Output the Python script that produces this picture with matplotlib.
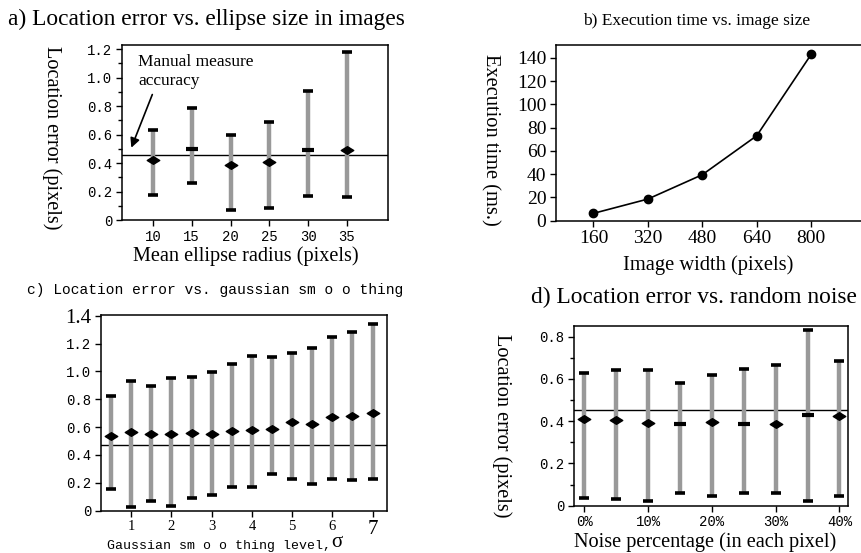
import numpy as np
import matplotlib
matplotlib.use("Agg")
import matplotlib.pyplot as plt
from matplotlib.path import Path

SERIF = "Liberation Serif"
MONO = "Liberation Mono"
plt.rcParams['font.family'] = MONO

# a) location error vs ellipse radius
a_radius = [10, 15, 20, 25, 30, 35]
a_mean = [0.42, 0.50, 0.39, 0.41, 0.49, 0.49]
a_low = [0.175, 0.26, 0.07, 0.085, 0.17, 0.165]
a_high = [0.635, 0.79, 0.595, 0.69, 0.91, 1.18]
a_dash = [False, True, False, False, True, False]
a_ref = 0.455
a_yticks = [0, 0.2, 0.4, 0.6, 0.8, 1.0, 1.2]
a_ylabels = ["0", "0.2", "0.4", "0.6", "0.8", "1.0", "1.2"]

# b) execution time vs image width
b_width = [160, 320, 480, 640, 800]
b_time = [6.3, 18.6, 39.5, 73.0, 142.9]
b_yticks = [0, 20, 40, 60, 80, 100, 120, 140]

# c) location error vs gaussian smoothing
c_sigma = [0.5, 1, 1.5, 2, 2.5, 3, 3.5, 4, 4.5, 5, 5.5, 6, 6.5, 7]
c_mean = [0.538, 0.565, 0.553, 0.548, 0.558, 0.553, 0.574, 0.581, 0.589,
          0.634, 0.620, 0.670, 0.677, 0.703]
c_low = [0.158, 0.024, 0.072, 0.034, 0.091, 0.112, 0.170, 0.170, 0.266,
         0.227, 0.194, 0.227, 0.220, 0.227]
c_high = [0.823, 0.933, 0.895, 0.950, 0.960, 0.995, 1.055, 1.110, 1.103,
          1.134, 1.168, 1.244, 1.283, 1.340]
c_ref = 0.474
c_yticks = [0, 0.2, 0.4, 0.6, 0.8, 1.0, 1.2, 1.4]
c_ylabels = ["0", "0.2", "0.4", "0.6", "0.8", "1.0", "1.2", "1.4"]

# d) location error vs random noise
d_noise = [0, 5, 10, 15, 20, 25, 30, 35, 40]
d_mean = [0.412, 0.406, 0.393, 0.385, 0.396, 0.385, 0.388, 0.431, 0.426]
d_low = [0.038, 0.033, 0.024, 0.062, 0.048, 0.062, 0.062, 0.021, 0.048]
d_high = [0.630, 0.642, 0.642, 0.580, 0.619, 0.646, 0.665, 0.832, 0.686]
d_dash = [False, False, False, True, False, True, False, True, False]
d_ref = 0.451
d_xticks = [0, 10, 20, 30, 40]
d_xlabels = ["0%", "10%", "20%", "30%", "40%"]
d_yticks = [0, 0.2, 0.4, 0.6, 0.8]
d_ylabels = ["0", "0.2", "0.4", "0.6", "0.8"]

W, H = 861, 553
fig = plt.figure(figsize=(W / 100, H / 100), dpi=100)

def box(l, t, r, b):
    # pixel box -> figure fraction rect
    return [l / W, 1 - b / H, (r - l) / W, (b - t) / H]

def fpos(x, y):
    return x / W, 1 - y / H

# wide diamond for the means
diamond = Path([(-1.3, 0), (0, 0.8), (1.3, 0), (0, -0.8), (-1.3, 0)],
               [Path.MOVETO, Path.LINETO, Path.LINETO, Path.LINETO, Path.CLOSEPOLY])

def err_panel(ax, x, mean, low, high, dash, ref):
    ax.vlines(x, low, high, color='#999999', lw=3.2, zorder=2)
    ax.plot(x, low, ls='none', marker='_', ms=7, mew=2.6, color='k', zorder=3)
    ax.plot(x, high, ls='none', marker='_', ms=7, mew=2.6, color='k', zorder=3)
    x = np.array(x)
    mean = np.array(mean)
    dash = np.array(dash)
    ax.plot(x[~dash], mean[~dash], ls='none', marker=diamond, ms=9, color='k', zorder=4)
    ax.plot(x[dash], mean[dash], ls='none', marker='_', ms=8, mew=3, color='k', zorder=4)
    ax.axhline(ref, color='k', lw=1.0, zorder=1)
    ax.tick_params(direction='out', length=4, width=1, labelsize=10, pad=3)
    ax.tick_params(which='minor', direction='out', length=3, width=1)
    for s in ax.spines.values():
        s.set_linewidth(1.1)

# ---- a ----
ax = fig.add_axes(box(122, 45, 388, 220))
err_panel(ax, a_radius, a_mean, a_low, a_high, a_dash, a_ref)
ax.set_xlim(6, 40.3)
ax.set_ylim(0, 1.23)
ax.set_xticks(a_radius)
ax.set_yticks(a_yticks, a_ylabels)
ax.set_yticks(np.arange(0.1, 1.2, 0.2), minor=True)
ax.annotate("", xy=(7.07, 0.49), xytext=(10.04, 0.90),
            arrowprops=dict(arrowstyle='-|>', color='k', lw=1.2, mutation_scale=14))
ax.text(8.1, 1.17, "Manual measure\naccuracy", family=SERIF, fontsize=12.5,
        ha='left', va='top', linespacing=1.3)
fig.text(*fpos(8, 25), "a) Location error vs. ellipse size in images",
         family=SERIF, fontsize=16.8, ha='left', va='baseline')
fig.text(*fpos(52, 138), "Location error (pixels)", family=SERIF, fontsize=14.6,
         rotation=-90, ha='center', va='center')
fig.text(*fpos(246, 256), "Mean ellipse radius (pixels)", family=SERIF, fontsize=14.6,
         ha='center', va='center')

# ---- b ----
ax = fig.add_axes(box(556, 45, 870, 220.7))
ax.plot(b_width, b_time, color='k', lw=1.2, marker='o', ms=6)
ax.set_xlim(50, 973)
ax.set_ylim(0, 151)
ax.set_xticks(b_width)
ax.set_yticks(b_yticks)
ax.tick_params(direction='out', length=4, width=1, labelsize=14, pad=3)
for lab in ax.get_xticklabels() + ax.get_yticklabels():
    lab.set_fontfamily(SERIF)
for s in ax.spines.values():
    s.set_linewidth(1.1)
fig.text(*fpos(697, 25), "b) Execution time vs. image size", family=SERIF,
         fontsize=12.5, ha='center', va='baseline')
fig.text(*fpos(490, 140), "Execution time (ms.)", family=SERIF, fontsize=14.8,
         rotation=-90, ha='center', va='center')
fig.text(*fpos(708, 265), "Image width (pixels)", family=SERIF, fontsize=14.8,
         ha='center', va='center')

# ---- c ----
ax = fig.add_axes(box(101, 315, 386.7, 510.7))
err_panel(ax, c_sigma, c_mean, c_low, c_high, [False] * len(c_sigma), c_ref)
ax.set_xlim(0.25, 7.35)
ax.set_ylim(0, 1.405)
ax.set_xticks([1, 2, 3, 4, 5, 6, 7])
ax.set_yticks(c_yticks, c_ylabels)
for lab in ax.get_xticklabels():
    lab.set_fontfamily(SERIF)
    lab.set_fontsize(15 if lab.get_text() == "7" else 10.5)
ytl = ax.get_yticklabels()
ytl[-1].set_fontfamily(SERIF)
ytl[-1].set_fontsize(15)
fig.text(*fpos(27, 290), "c) Location error vs. gaussian sm o o thing",
         fontsize=10.5, ha='left', va='center')
fig.text(*fpos(107, 546), "Gaussian sm o o thing level,", fontsize=9.5,
         ha='left', va='center')
fig.text(*fpos(331, 552), "σ", family=SERIF, fontsize=15, ha='left', va='bottom')

# ---- d ----
ax = fig.add_axes(box(574.3, 325.7, 848.3, 505.7))
err_panel(ax, d_noise, d_mean, d_low, d_high, d_dash, d_ref)
ax.set_xlim(-1.6, 41.4)
ax.set_ylim(0, 0.852)
ax.set_xticks(d_xticks, d_xlabels)
ax.set_yticks(d_yticks, d_ylabels)
ax.set_yticks([0.1, 0.3, 0.5, 0.7], minor=True)
fig.text(*fpos(694, 303), "d) Location error vs. random noise", family=SERIF,
         fontsize=16.8, ha='center', va='baseline')
fig.text(*fpos(502, 426), "Location error (pixels)", family=SERIF, fontsize=14.6,
         rotation=-90, ha='center', va='center')
fig.text(*fpos(705, 542), "Noise percentage (in each pixel)", family=SERIF,
         fontsize=14.6, ha='center', va='center')

fig.savefig("out.png", dpi=100)
